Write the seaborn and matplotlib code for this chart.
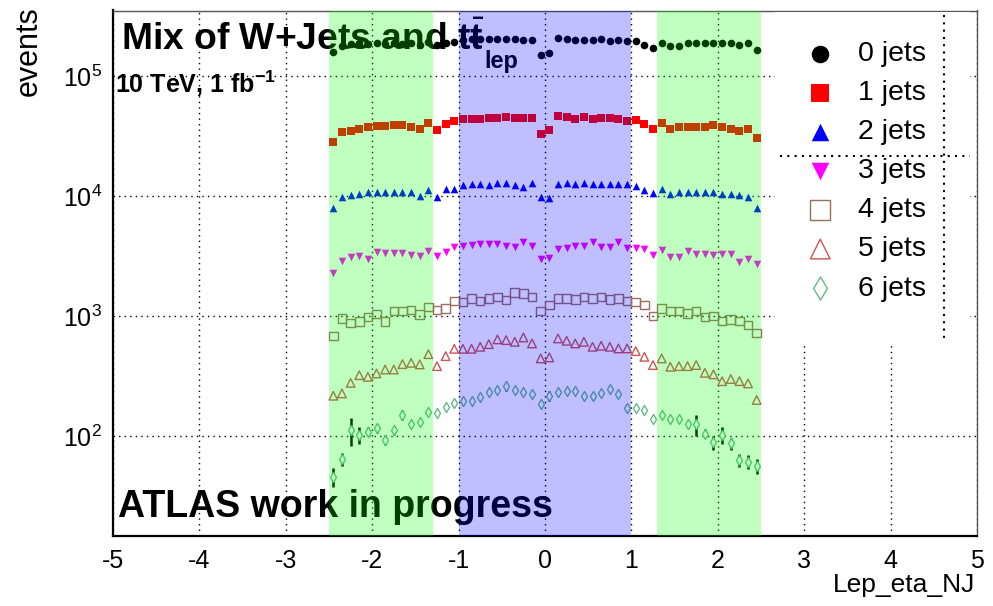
import matplotlib
matplotlib.use("Agg")
import matplotlib.pyplot as plt
import matplotlib.patches as mpatches
from matplotlib.ticker import MultipleLocator
import seaborn as sns

# bin centres of Lep_eta (bin width 0.1)
eta = [-2.45, -2.35, -2.25, -2.15, -2.05, -1.95, -1.85, -1.75, -1.65, -1.55,
       -1.45, -1.35, -1.25, -1.15, -1.05, -0.95, -0.85, -0.75, -0.65, -0.55,
       -0.45, -0.35, -0.25, -0.15, -0.05, 0.05, 0.15, 0.25, 0.35, 0.45,
       0.55, 0.65, 0.75, 0.85, 0.95, 1.05, 1.15, 1.25, 1.35, 1.45,
       1.55, 1.65, 1.75, 1.85, 1.95, 2.05, 2.15, 2.25, 2.35, 2.45]

jets0 = [159000, 178000, 185000, 189000, 185000, 188000, 185000, 188000, 185000, 188000,
         181000, 192000, 181000, 188000, 192000, 200000, 202000, 202000, 202000, 202000,
         202000, 202000, 201000, 200000, 150000, 156000, 206000, 202000, 201000, 201000,
         201000, 202000, 196000, 201000, 196000, 197000, 182000, 172000, 187000, 177000,
         178000, 188000, 187000, 187000, 187000, 187000, 187000, 182000, 187000, 165000]

jets1 = [28300, 34100, 35000, 36400, 37400, 38300, 38300, 38800, 38800, 37800,
         36200, 40800, 35700, 39600, 42200, 43500, 43500, 43500, 44400, 44400,
         45300, 44400, 44400, 44700, 32700, 35500, 46400, 45300, 44100, 45300,
         43500, 44700, 44700, 43500, 42400, 43000, 39600, 36400, 40800, 36400,
         37800, 37800, 37800, 37800, 39100, 37800, 35900, 34800, 35900, 30300]

jets2 = [7900, 9860, 10140, 10330, 10740, 10740, 10740, 10860, 10860, 10860,
         10060, 11220, 9750, 11440, 11440, 12280, 12590, 12590, 12280, 12900,
         12900, 12280, 11950, 12760, 9860, 9570, 12590, 12760, 12590, 12760,
         12590, 12590, 12590, 12590, 12590, 12040, 11220, 10530, 11500, 10390,
         10740, 10860, 10860, 10740, 10740, 10390, 10390, 10140, 9860, 7990]

jets3 = [2270, 2890, 3080, 3160, 2990, 3400, 3370, 3370, 3370, 3220,
         3160, 3500, 3160, 3430, 3780, 3830, 3910, 3980, 3980, 3980,
         3860, 3740, 4160, 3860, 2970, 3030, 3590, 3710, 3860, 3860,
         4160, 3780, 3780, 4160, 3710, 3660, 3590, 3220, 3550, 3100,
         3120, 3460, 3290, 3290, 3250, 3310, 3290, 2800, 2970, 2710]

jets4 = [685, 957, 879, 903, 987, 1039, 903, 1101, 1101, 1122,
         1033, 1195, 1122, 1158, 1341, 1315, 1404, 1341, 1404, 1449,
         1359, 1565, 1546, 1449, 1107, 1235, 1404, 1404, 1377, 1449,
         1404, 1449, 1377, 1404, 1341, 1315, 1235, 1000, 1158, 1107,
         1107, 1053, 1107, 987, 1006, 909, 939, 909, 841, 726]

jets5 = [217, 227, 278, 322, 312, 333, 359, 359, 398, 408,
         396, 482, 383, 464, 534, 534, 534, 555, 584, 640,
         631, 611, 664, 592, 444, 453, 652, 623, 592, 611,
         555, 566, 555, 538, 538, 511, 458, 391, 444, 378,
         383, 383, 391, 337, 327, 287, 299, 287, 275, 200]

jets6 = [46, 64, 112, 102, 109, 116, 93, 112, 150, 126,
         132, 159, 155, 175, 189, 197, 197, 213, 231, 242,
         261, 242, 231, 224, 185, 217, 231, 239, 239, 217,
         217, 229, 248, 224, 173, 173, 165, 140, 150, 138,
         138, 126, 126, 105, 89, 102, 87, 63, 61, 56]

err6 = [8, 8, 30, 16, 9, 10, 9, 9, 14, 10,
        10, 8, 9, 9, 8, 6, 6, 6, 6, 7,
        22, 7, 7, 7, 8, 22, 7, 7, 7, 7,
        7, 7, 7, 7, 8, 8, 10, 8, 8, 8,
        8, 9, 25, 9, 12, 16, 10, 8, 8, 8]

labels = ["0 jets", "1 jets", "2 jets", "3 jets", "4 jets", "5 jets", "6 jets"]

sns.set_style("white")
plt.rcParams["font.family"] = ["Liberation Sans", "DejaVu Sans"]
plt.rcParams["mathtext.fontset"] = "custom"
plt.rcParams["mathtext.rm"] = "Liberation Sans"
plt.rcParams["mathtext.bf"] = "Liberation Sans:bold"
plt.rcParams["mathtext.it"] = "Liberation Sans:italic"
plt.rcParams["axes.unicode_minus"] = False
plt.rcParams["text.color"] = "black"
plt.rcParams["xtick.color"] = "black"
plt.rcParams["ytick.color"] = "black"

W, H = 993, 606
fig = plt.figure(figsize=(W / 100, H / 100), dpi=100)
ax = fig.add_axes([113 / W, 1 - 535.7 / H, (977 - 113) / W, (535.7 - 10.5) / H])

# (values, marker, colour, filled, size)
styles = [
    (jets0, "o", "black", True, 30),
    (jets1, "s", "#ff0000", True, 32),
    (jets2, "^", "#0000ff", True, 30),
    (jets3, "v", "#ff00ff", True, 30),
    (jets4, "s", "#9c7060", False, 38),
    (jets5, "^", "#cc5555", False, 38),
    (jets6, "d", "#66b88a", False, 26),
]

ax.errorbar(eta, jets6, yerr=err6, fmt="none", ecolor="black", elinewidth=1.8, zorder=2)

for lab, (vals, mk, col, filled, size) in zip(labels, styles):
    if filled:
        sns.scatterplot(x=eta, y=vals, marker=mk, color=col, s=size, linewidth=0,
                        ax=ax, label=lab, zorder=3)
    else:
        face = "white" if lab == "6 jets" else "none"
        sns.scatterplot(x=eta, y=vals, marker=mk, facecolor=face, edgecolor=col,
                        s=size, linewidth=1.0, ax=ax, label=lab, zorder=3)

ax.set_yscale("log")
ax.set_xlim(-5, 5)
ax.set_ylim(14.8, 3.52e5)
ax.xaxis.set_major_locator(MultipleLocator(1))
ax.xaxis.set_minor_locator(MultipleLocator(0.2))
ax.set_xlabel("")
ax.set_ylabel("")

ax.set_axisbelow(True)
ax.grid(True, which="major", linestyle=(0, (1, 3)), color="black", linewidth=1)

ax.tick_params(which="both", direction="in", top=False, right=False, labelsize=18,
               colors="black")
ax.tick_params(axis="y", which="major", length=11, width=1, pad=8)
ax.tick_params(axis="y", which="minor", length=6, width=1)
ax.tick_params(axis="x", which="major", length=11, width=1, pad=9.5)
ax.tick_params(axis="x", which="minor", length=5.5, width=1)

for side in ["left", "bottom"]:
    ax.spines[side].set_linewidth(1.6)
    ax.spines[side].set_color("black")
for side in ["top", "right"]:
    ax.spines[side].set_linewidth(1.0)
    ax.spines[side].set_color("#555555")

# eta regions
ax.axvspan(-2.5, -1.3, color=(0, 1, 0), alpha=0.25, lw=0, zorder=10)
ax.axvspan(1.3, 2.5, color=(0, 1, 0), alpha=0.25, lw=0, zorder=10)
ax.axvspan(-1.0, 1.0, color=(0, 0, 1), alpha=0.25, lw=0, zorder=10)

# legend box
box = mpatches.Rectangle((775 / W, 1 - 345 / H), 195 / W, 333 / H, transform=fig.transFigure,
                         facecolor="white", edgecolor="none", zorder=4)
ax.add_patch(box)
ax.plot([944 / W, 944 / W], [1 - 15 / H, 1 - 343 / H], transform=fig.transFigure,
        color="black", linestyle=(0, (1, 2.5)), linewidth=1.5, zorder=6, clip_on=False)
ax.plot([780 / W, 970 / W], [1 - 156 / H, 1 - 156 / H], transform=fig.transFigure,
        color="black", linestyle=(0, (1, 2.5)), linewidth=1.5, zorder=6, clip_on=False)

ax.legend(loc="upper left", bbox_to_anchor=(806 / W, 1 - 41 / H), bbox_transform=fig.transFigure,
          frameon=False, fontsize=20.5, markerscale=2.3, handlelength=1.0,
          handletextpad=0.82, labelspacing=0.46, borderpad=0, borderaxespad=0)

ax.text(121 / W, 1 - 50 / H, r"Mix of W+Jets and $\mathbf{t}\bar{\mathbf{t}}$",
        transform=fig.transFigure, fontsize=26.8, fontweight="bold", ha="left",
        va="baseline", zorder=5)
ax.text(484 / W, 1 - 68 / H, "lep", transform=fig.transFigure, fontsize=17,
        fontweight="bold", ha="left", va="baseline", zorder=5)
ax.text(115 / W, 1 - 93 / H, r"10 TeV, 1 fb$^{\mathbf{-1}}$", transform=fig.transFigure,
        fontsize=18, fontweight="bold", ha="left", va="baseline", zorder=5)
ax.text(118 / W, 1 - 517 / H, "ATLAS work in progress", transform=fig.transFigure,
        fontsize=27, fontweight="bold", ha="left", va="baseline", zorder=5)

fig.text(29 / W, 1 - 6 / H, "events", rotation=90, fontsize=22, ha="center", va="top")
fig.text(975 / W, 1 - 573 / H, "Lep_eta_NJ", fontsize=19, ha="right", va="top")

fig.savefig("out.png", dpi=100)
